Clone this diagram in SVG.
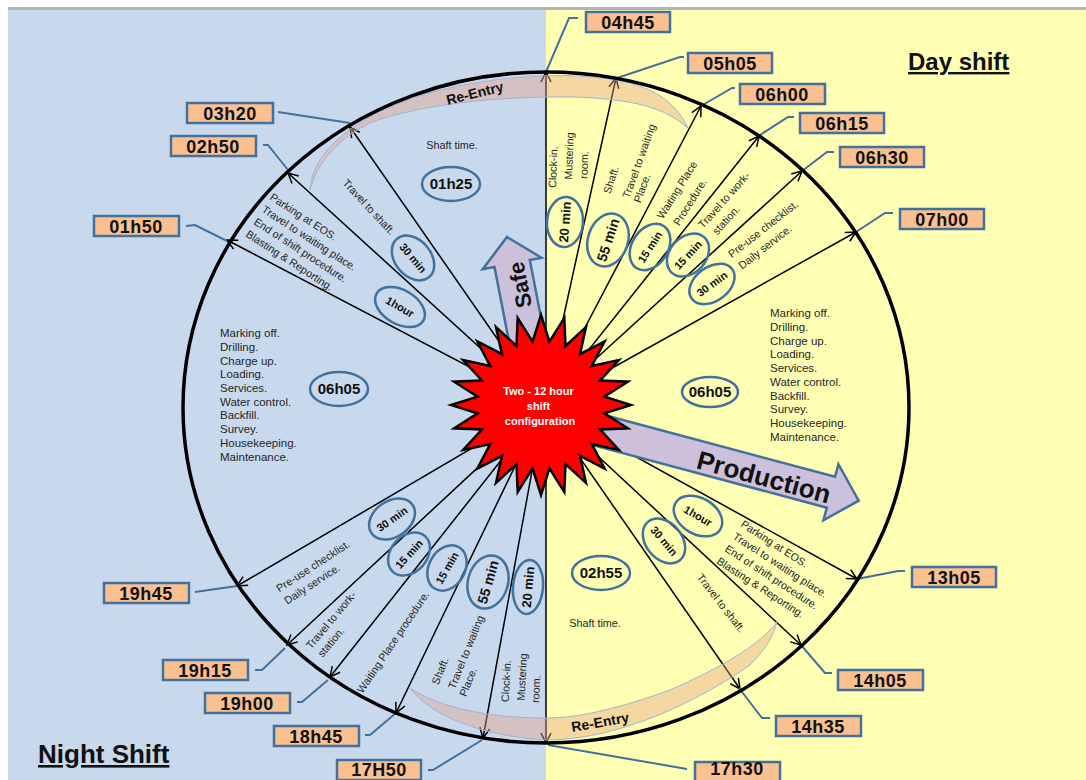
<svg xmlns="http://www.w3.org/2000/svg" width="1086" height="780" viewBox="0 0 1086 780">
<style>
.sm{font-family:"Liberation Sans",Arial,sans-serif;font-size:10.8px;fill:#262626}
.ls{font-family:"Liberation Sans",Arial,sans-serif;font-size:11.5px;fill:#262626}
.ov{fill:none;stroke:#41719c;stroke-width:2.5}
.ot{font-family:"Liberation Sans",Arial,sans-serif;font-weight:bold;fill:#111;text-anchor:middle}
.box{fill:#fac090;stroke:#41719c;stroke-width:2.5}
.bt{font-family:"Liberation Sans",Arial,sans-serif;font-weight:bold;font-size:18px;fill:#111;text-anchor:middle;letter-spacing:0.5px}
.sp{stroke:#000;stroke-width:1.5;fill:none;marker-end:url(#ah)}
.ld{stroke:#41719c;stroke-width:2;fill:none}
.band{fill:#e8a088;fill-opacity:0.42;stroke:#9fb4d0;stroke-width:1}
.big{font-family:"Liberation Sans",Arial,sans-serif;font-weight:bold;fill:#111}
</style>
<defs>
<marker id="ah" viewBox="0 0 12 12" refX="11" refY="6" markerWidth="12" markerHeight="12" markerUnits="userSpaceOnUse" orient="auto">
<path d="M1,1 L11,6 L1,11" fill="none" stroke="#000" stroke-width="1.5"/>
</marker>
</defs>
<g id="background">
<rect x="0" y="0" width="1086" height="780" fill="#ffffff"/>
<rect x="8" y="10" width="538" height="770" fill="#c9d9ed"/>
<rect x="546" y="10" width="540" height="770" fill="#ffffb4"/>
<rect x="8" y="7" width="1078" height="3" fill="#b4b4b4"/>
</g>
<g id="connectors">
<line class="sp" x1="546" y1="406" x2="546" y2="72"/>
<line class="sp" x1="546" y1="406" x2="546" y2="743"/>
<line class="sp" x1="544" y1="406" x2="616" y2="78"/>
<line class="sp" x1="544" y1="406" x2="701" y2="106"/>
<line class="sp" x1="544" y1="406" x2="759" y2="136"/>
<line class="sp" x1="544" y1="406" x2="802" y2="171"/>
<line class="sp" x1="544" y1="406" x2="856" y2="232"/>
<line class="sp" x1="544" y1="406" x2="857" y2="579"/>
<line class="sp" x1="544" y1="406" x2="801" y2="645"/>
<line class="sp" x1="544" y1="406" x2="740" y2="689"/>
<line class="sp" x1="544" y1="406" x2="483" y2="738"/>
<line class="sp" x1="544" y1="406" x2="396" y2="713"/>
<line class="sp" x1="544" y1="406" x2="330" y2="677"/>
<line class="sp" x1="544" y1="406" x2="287" y2="645"/>
<line class="sp" x1="544" y1="406" x2="237" y2="586"/>
<line class="sp" x1="544" y1="406" x2="227" y2="240"/>
<line class="sp" x1="544" y1="406" x2="288" y2="173"/>
<line class="sp" x1="544" y1="406" x2="350" y2="127"/>
<polyline class="ld" points="546,72 569,18 578,18"/>
<polyline class="ld" points="617,78 680,57 684,57"/>
<polyline class="ld" points="701,106 732,88 735,88"/>
<polyline class="ld" points="760,135 788,117 794,117"/>
<polyline class="ld" points="802,171 827,152 834,152"/>
<polyline class="ld" points="856,232 885,213 893,213"/>
<polyline class="ld" points="857,579 898,571 905,571"/>
<polyline class="ld" points="801,645 825,673 832,673"/>
<polyline class="ld" points="739,688 762,718 770,718"/>
<polyline class="ld" points="548,745 687,769"/>
<polyline class="ld" points="482,740 433,770 428,770"/>
<polyline class="ld" points="396,713 370,735 365,735"/>
<polyline class="ld" points="328,680 302,702 297,702"/>
<polyline class="ld" points="285,648 262,670 255,670"/>
<polyline class="ld" points="237,586 195,592"/>
<polyline class="ld" points="227,241 195,225 186,226"/>
<polyline class="ld" points="288,170 268,145 263,145"/>
<polyline class="ld" points="350,123 278,112"/>
</g>
<g id="reentry-top">
<path class="band" d="M310,190 C312,150 360,110 440,90 C500,76 560,72 610,79 C650,85 675,100 688,128 C665,108 635,99 573,97 C500,96 420,104 370,123 C340,138 318,160 310,190 Z"/>
<text class="big" font-size="14" text-anchor="middle" transform="translate(476,98) rotate(-14)">Re-Entry</text>
</g>
<g id="reentry-bottom">
<path class="band" d="M410,688 C430,715 480,736 546,740 C620,740 700,700 750,665 C765,650 773,637 777,622 C760,645 720,668 670,690 C620,708 580,718 546,718 C490,718 440,708 410,688 Z"/>
<text class="big" font-size="14" text-anchor="middle" transform="translate(601,727) rotate(-10)">Re-Entry</text>
</g>
<ellipse id="clock" cx="546" cy="407.5" rx="363" ry="335.5" fill="none" stroke="#000" stroke-width="3.5"/>
<g id="safe-arrow">
<path d="M0,0 L30,27 L18,27 L18,112 L-18,112 L-18,27 L-30,27 Z" transform="translate(507,237) rotate(-11)" fill="#ccc0da" stroke="#41719c" stroke-width="2.5"/>
<text class="big" font-size="22" text-anchor="middle" dy="0.35em" transform="translate(520,285) rotate(-101)">Safe</text>
</g>
<g id="production-arrow">
<path d="M-10,-15 L229,-15 L229,-28 L258,2 L229,30 L229,17 L-10,17 Z" transform="translate(610,432) rotate(15)" fill="#ccc0da" stroke="#41719c" stroke-width="2.5"/>
<text class="big" font-size="26" text-anchor="middle" dy="0.35em" transform="translate(764,477) rotate(15)">Production</text>
</g>
<g id="center-star">
<polygon points="541,315 549.4,341.6 564.3,318.1 565.5,345.9 586,327.1 580,354.2 604.6,341.4 591.8,366 618.9,360 600.1,380.5 627.9,381.7 604.4,396.6 631,405 604.4,413.4 627.9,428.3 600.1,429.5 618.9,450 591.8,444 604.6,468.6 580,455.8 586,482.9 565.5,464.1 564.3,491.9 549.4,468.4 541,495 532.6,468.4 517.7,491.9 516.5,464.1 496,482.9 502,455.8 477.4,468.6 490.2,444 463.1,450 481.9,429.5 454.1,428.3 477.6,413.4 451,405 477.6,396.6 454.1,381.7 481.9,380.5 463.1,360 490.2,366 477.4,341.4 502,354.2 496,327.1 516.5,345.9 517.7,318.1 532.6,341.6" fill="#ff0000" stroke="#000" stroke-width="2.5" stroke-linejoin="miter"/>
<text font-family="Liberation Sans, Arial, sans-serif" font-weight="bold" font-size="11" fill="#fff" text-anchor="middle">
<tspan x="540" y="395">Two - 12 hour</tspan>
<tspan x="540" y="410">shift</tspan>
<tspan x="540" y="425">configuration</tspan>
</text>
</g>
<g id="titles">
<text class="big" font-size="24" x="908" y="70" text-decoration="underline">Day shift</text>
<text class="big" font-size="26" x="38" y="763" text-decoration="underline">Night Shift</text>
</g>
<g id="t0445"><rect class="box" x="586" y="12" width="84" height="20"/><text class="bt" x="628" y="29">04h45</text></g>
<g id="t0505"><rect class="box" x="688" y="53" width="84" height="20"/><text class="bt" x="730" y="70">05h05</text></g>
<g id="t0600"><rect class="box" x="740" y="84" width="85" height="20"/><text class="bt" x="782" y="101">06h00</text></g>
<g id="t0615"><rect class="box" x="800" y="113" width="84" height="20"/><text class="bt" x="842" y="130">06h15</text></g>
<g id="t0630"><rect class="box" x="840" y="147" width="84" height="20"/><text class="bt" x="882" y="164">06h30</text></g>
<g id="t0700"><rect class="box" x="900" y="209" width="84" height="20"/><text class="bt" x="942" y="226">07h00</text></g>
<g id="t1305"><rect class="box" x="912" y="567" width="84" height="20"/><text class="bt" x="954" y="584">13h05</text></g>
<g id="t1405"><rect class="box" x="838" y="670" width="85" height="20"/><text class="bt" x="880" y="687">14h05</text></g>
<g id="t1435"><rect class="box" x="776" y="716" width="85" height="20"/><text class="bt" x="818" y="733">14h35</text></g>
<g id="t1730"><rect class="box" x="695" y="762" width="85" height="20"/><text class="bt" x="737" y="775">17h30</text></g>
<g id="t1750"><rect class="box" x="337" y="760" width="84" height="20"/><text class="bt" x="379" y="776">17H50</text></g>
<g id="t1845"><rect class="box" x="274" y="726" width="85" height="20"/><text class="bt" x="316" y="743">18h45</text></g>
<g id="t1900"><rect class="box" x="205" y="693" width="85" height="20"/><text class="bt" x="247" y="710">19h00</text></g>
<g id="t1915"><rect class="box" x="163" y="660" width="85" height="20"/><text class="bt" x="205" y="677">19h15</text></g>
<g id="t1945"><rect class="box" x="104" y="583" width="85" height="20"/><text class="bt" x="146" y="600">19h45</text></g>
<g id="t0150"><rect class="box" x="94" y="216" width="85" height="20"/><text class="bt" x="136" y="233">01h50</text></g>
<g id="t0250"><rect class="box" x="171" y="136" width="85" height="20"/><text class="bt" x="213" y="153">02h50</text></g>
<g id="t0320"><rect class="box" x="187" y="103" width="86" height="20"/><text class="bt" x="230" y="120">03h20</text></g>
<g id="day-segments">
<text class="sm" text-anchor="middle" dy="0.35em" transform="translate(553,167) rotate(-88)">Clock-in.</text>
<text class="sm" text-anchor="middle" dy="0.35em" transform="translate(569,156) rotate(-88)">Mustering</text>
<text class="sm" text-anchor="middle" dy="0.35em" transform="translate(584,165) rotate(-88)">room.</text>
<ellipse class="ov" cx="0" cy="0" rx="25" ry="18" transform="translate(565,222) rotate(-86)"/>
<text class="ot" font-size="13" dy="0.35em" transform="translate(565,222) rotate(-86)">20 min</text>
<text class="sm" text-anchor="middle" dy="0.35em" transform="translate(611,180) rotate(-72)">Shaft.</text>
<text class="sm" text-anchor="middle" dy="0.35em" transform="translate(639,161) rotate(-70)">Travel to waiting</text>
<text class="sm" text-anchor="middle" dy="0.35em" transform="translate(642,188) rotate(-70)">Place.</text>
<ellipse class="ov" cx="0" cy="0" rx="27" ry="20" transform="translate(608,240) rotate(-72)"/>
<text class="ot" font-size="14" dy="0.35em" transform="translate(608,240) rotate(-72)">55 min</text>
<text class="sm" text-anchor="middle" dy="0.35em" transform="translate(677,190) rotate(-58)">Waiting Place</text>
<text class="sm" text-anchor="middle" dy="0.35em" transform="translate(690,202) rotate(-58)">Procedure.</text>
<ellipse class="ov" cx="0" cy="0" rx="25" ry="18" transform="translate(650,247) rotate(-57)"/>
<text class="ot" font-size="11" dy="0.35em" transform="translate(650,247) rotate(-57)">15 min</text>
<text class="sm" text-anchor="middle" dy="0.35em" transform="translate(724,200) rotate(-48)">Travel to work-</text>
<text class="sm" text-anchor="middle" dy="0.35em" transform="translate(726,220) rotate(-48)">station.</text>
<ellipse class="ov" cx="0" cy="0" rx="24" ry="18" transform="translate(688,255) rotate(-47)"/>
<text class="ot" font-size="11" dy="0.35em" transform="translate(688,255) rotate(-47)">15 min</text>
<text class="sm" text-anchor="middle" dy="0.35em" transform="translate(763,229) rotate(-38)">Pre-use checklist.</text>
<text class="sm" text-anchor="middle" dy="0.35em" transform="translate(765,247) rotate(-38)">Daily service.</text>
<ellipse class="ov" cx="0" cy="0" rx="25" ry="17" transform="translate(712,284) rotate(-36)"/>
<text class="ot" font-size="11" dy="0.35em" transform="translate(712,284) rotate(-36)">30 min</text>
<text class="ls"><tspan x="770" y="317">Marking off.</tspan><tspan x="770" y="331">Drilling.</tspan><tspan x="770" y="345">Charge up.</tspan><tspan x="770" y="358">Loading.</tspan><tspan x="770" y="372">Services.</tspan><tspan x="770" y="386">Water control.</tspan><tspan x="770" y="400">Backfill.</tspan><tspan x="770" y="413">Survey.</tspan><tspan x="770" y="427">Housekeeping.</tspan><tspan x="770" y="441">Maintenance.</tspan></text>
<ellipse class="ov" cx="710" cy="392" rx="28" ry="15"/>
<text class="ot" font-size="15" x="710" y="397">06h05</text>
<ellipse class="ov" cx="0" cy="0" rx="26" ry="18" transform="translate(698,516) rotate(30)"/>
<text class="ot" font-size="11" dy="0.35em" transform="translate(698,516) rotate(30)">1hour</text>
<ellipse class="ov" cx="0" cy="0" rx="25" ry="18" transform="translate(664,541) rotate(50)"/>
<text class="ot" font-size="11" dy="0.35em" transform="translate(664,541) rotate(50)">30 min</text>
<text class="sm" transform="translate(740,526) rotate(33)"><tspan x="0" y="0">Parking at EOS.</tspan><tspan x="0" y="14.7">Travel to waiting place.</tspan><tspan x="0" y="29.4">End of shift procedure.</tspan><tspan x="0" y="44.1">Blasting &amp; Reporting.</tspan></text>
<text class="sm" text-anchor="middle" dy="0.35em" transform="translate(721,603) rotate(52)">Travel to shaft.</text>
<ellipse class="ov" cx="601" cy="573" rx="29" ry="17"/>
<text class="ot" font-size="15" x="601" y="578">02h55</text>
<text class="sm" x="595" y="627" text-anchor="middle">Shaft time.</text>
</g>
<g id="night-segments">
<text class="sm" x="452" y="149" text-anchor="middle">Shaft time.</text>
<ellipse class="ov" cx="451" cy="184" rx="29" ry="17"/>
<text class="ot" font-size="15" x="451" y="189">01h25</text>
<text class="sm" text-anchor="middle" dy="0.35em" transform="translate(369,207) rotate(47)">Travel to shaft.</text>
<ellipse class="ov" cx="0" cy="0" rx="25" ry="18" transform="translate(413,258) rotate(50)"/>
<text class="ot" font-size="11" dy="0.35em" transform="translate(413,258) rotate(50)">30 min</text>
<text class="sm" transform="translate(269,199) rotate(33)"><tspan x="0" y="0">Parking at EOS.</tspan><tspan x="0" y="14.7">Travel to waiting place.</tspan><tspan x="0" y="29.4">End of shift procedure.</tspan><tspan x="0" y="44.1">Blasting &amp; Reporting.</tspan></text>
<ellipse class="ov" cx="0" cy="0" rx="27" ry="17" transform="translate(400,307) rotate(30)"/>
<text class="ot" font-size="11" dy="0.35em" transform="translate(400,307) rotate(30)">1hour</text>
<text class="ls"><tspan x="220" y="337">Marking off.</tspan><tspan x="220" y="351">Drilling.</tspan><tspan x="220" y="365">Charge up.</tspan><tspan x="220" y="378">Loading.</tspan><tspan x="220" y="392">Services.</tspan><tspan x="220" y="406">Water control.</tspan><tspan x="220" y="419">Backfill.</tspan><tspan x="220" y="433">Survey.</tspan><tspan x="220" y="447">Housekeeping.</tspan><tspan x="220" y="461">Maintenance.</tspan></text>
<ellipse class="ov" cx="339" cy="389" rx="29" ry="17"/>
<text class="ot" font-size="15" x="339" y="394">06h05</text>
<text class="sm" text-anchor="middle" dy="0.35em" transform="translate(313,566) rotate(-33)">Pre-use checklist.</text>
<text class="sm" text-anchor="middle" dy="0.35em" transform="translate(312,584) rotate(-33)">Daily service.</text>
<ellipse class="ov" cx="0" cy="0" rx="25" ry="18" transform="translate(392,519) rotate(-35)"/>
<text class="ot" font-size="11" dy="0.35em" transform="translate(392,519) rotate(-35)">30 min</text>
<text class="sm" text-anchor="middle" dy="0.35em" transform="translate(331,620) rotate(-50)">Travel to work-</text>
<text class="sm" text-anchor="middle" dy="0.35em" transform="translate(331,642) rotate(-50)">station.</text>
<ellipse class="ov" cx="0" cy="0" rx="24" ry="18" transform="translate(409,554) rotate(-48)"/>
<text class="ot" font-size="11" dy="0.35em" transform="translate(409,554) rotate(-48)">15 min</text>
<text class="sm" text-anchor="middle" dy="0.35em" transform="translate(393,642) rotate(-56)">Waiting Place procedure.</text>
<ellipse class="ov" cx="0" cy="0" rx="24" ry="18" transform="translate(447,568) rotate(-60)"/>
<text class="ot" font-size="11" dy="0.35em" transform="translate(447,568) rotate(-60)">15 min</text>
<text class="sm" text-anchor="middle" dy="0.35em" transform="translate(440,671) rotate(-68)">Shaft.</text>
<text class="sm" text-anchor="middle" dy="0.35em" transform="translate(466,652) rotate(-68)">Travel to waiting</text>
<text class="sm" text-anchor="middle" dy="0.35em" transform="translate(468,682) rotate(-68)">Place.</text>
<ellipse class="ov" cx="0" cy="0" rx="27" ry="20" transform="translate(488,582) rotate(-74)"/>
<text class="ot" font-size="14" dy="0.35em" transform="translate(488,582) rotate(-74)">55 min</text>
<text class="sm" text-anchor="middle" dy="0.35em" transform="translate(506,681) rotate(-87)">Clock-in.</text>
<text class="sm" text-anchor="middle" dy="0.35em" transform="translate(522,677) rotate(-87)">Mustering</text>
<text class="sm" text-anchor="middle" dy="0.35em" transform="translate(536,689) rotate(-87)">room.</text>
<ellipse class="ov" cx="0" cy="0" rx="27" ry="15" transform="translate(528,587) rotate(-85)"/>
<text class="ot" font-size="13" dy="0.35em" transform="translate(528,587) rotate(-85)">20 min</text>
</g>
</svg>
